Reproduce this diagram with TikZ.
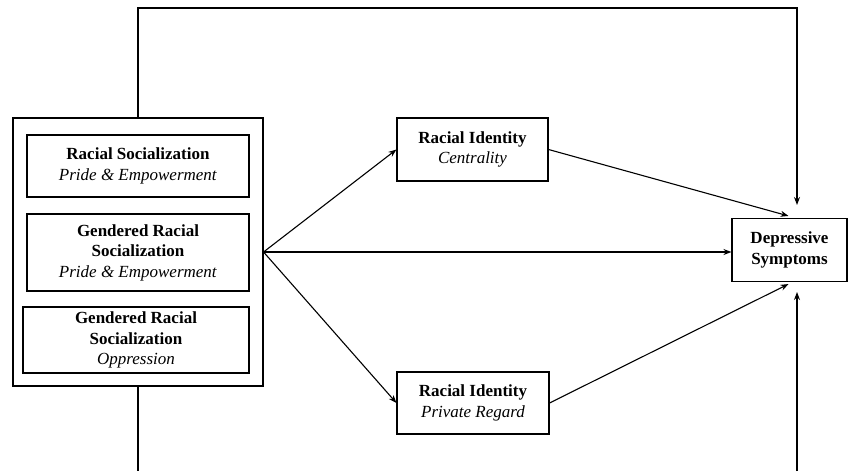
\documentclass[tikz,border=0pt]{standalone}
\usepackage{fontspec}
\setmainfont{Liberation Serif}
\usetikzlibrary{arrows.meta,calc}
\begin{document}
\begin{tikzpicture}[x=1pt,y=-1pt,
  box/.style={draw,line width=1.1pt,align=center,inner sep=1pt,
    font=\fontsize{17}{20.5}\selectfont},
  conn/.style={line width=1.1pt},
  arr/.style={conn,-{Stealth[length=8pt,width=6pt]}}]
\useasboundingbox (0,0) rectangle (848,471);
\node[draw,line width=1.1pt,minimum width=250pt,minimum height=268pt] (outer) at (138,252) {};
\node[box,minimum width=222pt,minimum height=62pt] (b1) at (138,166) {\textbf{Racial Socialization}\\\textit{Pride \& Empowerment}};
\node[box,minimum width=222pt,minimum height=77pt] (b2) at (138,252.5) {\textbf{Gendered Racial}\\\textbf{Socialization}\\\textit{Pride \& Empowerment}};
\node[box,minimum width=226pt,minimum height=66pt] (b3) at (136,340) {\textbf{Gendered Racial}\\\textbf{Socialization}\\\textit{Oppression}};
\node[box,minimum width=151pt,minimum height=63pt] (cen) at (472.5,149.5) {\textbf{Racial Identity}\\\textit{Centrality}};
\node[box,minimum width=152pt,minimum height=62pt] (prv) at (473,403) {\textbf{Racial Identity}\\\textit{Private Regard}};
\node[box,minimum width=115pt,minimum height=63pt] (dep) at (789.5,250) {\textbf{Depressive}\\\textbf{Symptoms}};
\coordinate (fan) at (outer.east);
\coordinate (ttip) at (797,205);
\coordinate (btip) at (797,292);
\coordinate (tcorner) at (797,8);
\coordinate (bl) at (138,471);
\coordinate (br) at (797,471);
\draw[arr] (fan) -- (cen.west);
\draw[arr] (fan) -- (prv.west);
\draw[arr] (fan) -- (fan -| dep.west);
\draw[arr] (cen.east) -- ($(dep.north)+(-1,-2)$);
\draw[arr] (prv.east) -- ($(dep.south)+(-1,2)$);
\draw[arr] (outer.north) |- (tcorner) -- (ttip);
\draw[conn] (outer.south) -- (bl);
\draw[arr] (br) -- (btip);
\end{tikzpicture}
\end{document}
